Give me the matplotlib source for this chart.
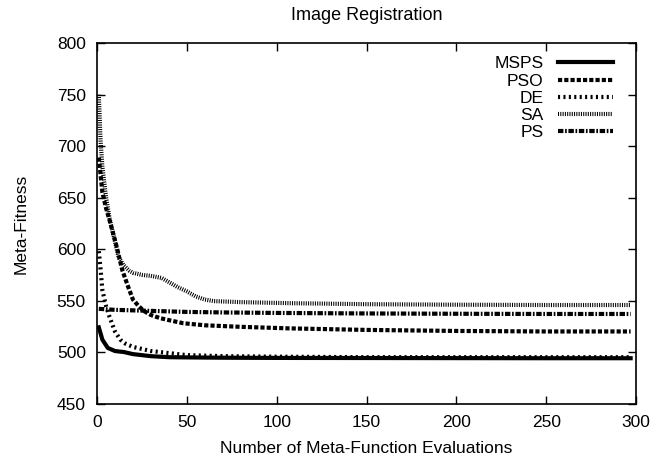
import matplotlib
matplotlib.use('Agg')
import matplotlib.pyplot as plt

plt.rcParams['font.family'] = ['Liberation Sans', 'DejaVu Sans']
plt.rcParams['font.size'] = 12.5

# values
msps_x = [1, 3, 6, 10, 15, 20, 25, 30, 40, 50, 70, 100, 150, 200, 250, 297]
msps_y = [524, 512, 504, 501, 500, 498, 497, 496, 495, 494.8, 494.5, 494.3, 494.2, 494.1, 494, 494]

pso_x = [1, 3, 5, 7, 9, 11, 14, 17, 20, 23, 26, 30, 35, 40, 48, 60, 80, 107, 150, 200, 250, 297]
pso_y = [689, 655, 640, 628, 615, 602, 580, 565, 551, 545, 540, 536, 533, 531, 528, 526, 524.5, 523, 521.5, 520.5, 520, 520]

de_x = [1, 2, 3, 5, 7, 10, 13, 16, 20, 25, 30, 40, 50, 70, 100, 150, 200, 250, 297]
de_y = [598, 580, 560, 545, 534, 520, 512, 508, 505, 503, 501, 499, 497, 496, 495.5, 495, 495, 495, 495]

sa_x = [1, 2, 3, 5, 7, 9, 12, 15, 18, 20, 25, 30, 33, 36, 40, 45, 50, 55, 60, 65, 80, 107, 150, 200, 250, 297]
sa_y = [750, 705, 680, 651, 630, 615, 592, 584, 579, 577, 575, 574, 573, 572, 568, 563, 559, 554, 551, 549.5, 548.5, 547.5, 546.5, 546, 545.7, 545.7]

ps_x = [1, 10, 20, 30, 50, 70, 100, 150, 200, 250, 297]
ps_y = [542, 541, 540.5, 540, 539, 538.5, 538, 537.5, 537.2, 537, 537]

fig = plt.figure(figsize=(6.55, 4.62), dpi=100)
ax = fig.add_axes([0.1481, 0.1266, 0.971 - 0.1481, 0.9063 - 0.1266])

lw = 3.0
ax.plot(msps_x, msps_y, color='black', lw=lw, linestyle='-', label='MSPS')
ax.plot(pso_x, pso_y, color='black', lw=lw, linestyle=(0, (1.0, 0.5)), label='PSO',
        dash_capstyle='butt')
ax.plot(de_x, de_y, color='black', lw=lw, linestyle=(0, (0.5, 0.8)), label='DE',
        dash_capstyle='butt')
ax.plot(sa_x, sa_y, color='black', lw=lw, linestyle=(0, (0.25, 0.3)), label='SA',
        dash_capstyle='butt')
ax.plot(ps_x, ps_y, color='black', lw=lw, linestyle=(0, (1.3, 0.4, 0.4, 0.4)), label='PS',
        dash_capstyle='butt')

ax.set_xlim(0, 300)
ax.set_ylim(450, 800)
ax.set_xticks([0, 50, 100, 150, 200, 250, 300])
ax.set_yticks([450, 500, 550, 600, 650, 700, 750, 800])
ax.tick_params(direction='in', length=6, width=1, top=True, right=True, pad=8)
for s in ax.spines.values():
    s.set_linewidth(1.2)

ax.set_title('Image Registration', pad=16.5, fontsize=13)
ax.set_xlabel('Number of Meta-Function Evaluations', labelpad=8)
ax.set_ylabel('Meta-Fitness', labelpad=20)

leg = ax.legend(loc='upper right', bbox_to_anchor=(0.957, 0.964), markerfirst=False,
                frameon=False, handlelength=3.15, handletextpad=0.85, labelspacing=0.12,
                borderaxespad=0, borderpad=0)

fig.savefig('out.png', dpi=100)
